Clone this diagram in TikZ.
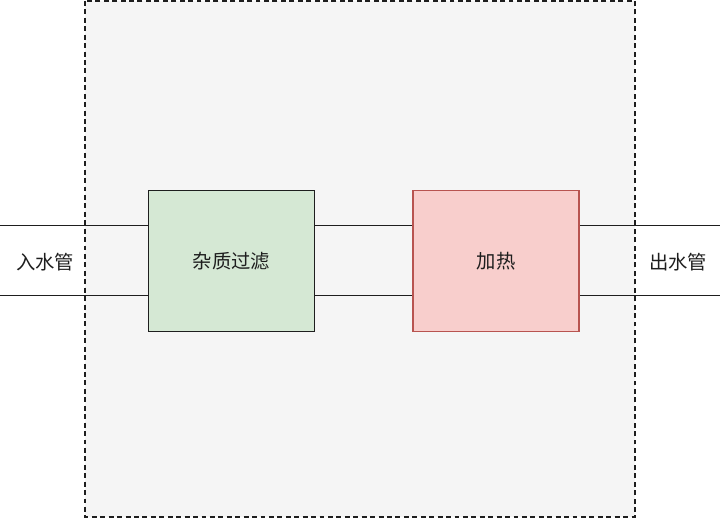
\documentclass[tikz,border=0pt]{standalone}
\usepackage{fontspec}
\setmainfont{Noto Sans CJK SC}
\usetikzlibrary{positioning, calc}
\usepackage{xcolor}
\definecolor{housefill}{HTML}{F5F5F5}
\definecolor{filtgreen}{HTML}{D5E8D4}
\definecolor{heatred}{HTML}{F8CECC}
\definecolor{heatline}{HTML}{B85450}
\definecolor{inkdark}{HTML}{1E1E1E}

\begin{document}
\begin{tikzpicture}[
  x=0.02cm, y=-0.02cm,
  unit/.style={rectangle, minimum width=3.32cm, minimum height=2.82cm,
               line width=1pt, font=\fontsize{11}{13}\selectfont, text=inkdark},
  pipe/.style={draw=inkdark, line width=1pt},
  pipelbl/.style={font=\fontsize{11}{13}\selectfont, text=inkdark},
  node distance=1.94cm
]
\useasboundingbox (0,0) rectangle (720,519);

% ===== HOUSING =====
\draw[fill=housefill, draw=inkdark, line width=1pt, dash pattern=on 2.8pt off 2pt]
  (85,1) rectangle (635,517);

% ===== UNITS =====
\node[unit, fill=filtgreen, draw=inkdark] (filter) at (231.5,261) {杂质过滤};
\node[unit, fill=heatred, draw=heatline, right=of filter] (heat) {加热};

% ===== PIPES =====
\coordinate (inTop) at (0,225.5);
\coordinate (inBot) at (0,295.5);
\coordinate (outTop) at (720,225.5);
\coordinate (outBot) at (720,295.5);

\draw[pipe] (inTop) -- (inTop -| filter.west);
\draw[pipe] (inBot) -- (inBot -| filter.west);
\draw[pipe] (filter.east |- inTop) -- (heat.west |- inTop);
\draw[pipe] (filter.east |- inBot) -- (heat.west |- inBot);
\draw[pipe] (heat.east |- inTop) -- (outTop);
\draw[pipe] (heat.east |- inBot) -- (outBot);

% ===== LABELS =====
\node[pipelbl] (inlet) at (45,262) {入水管};
\node[pipelbl] (outlet) at (678,262) {出水管};

\end{tikzpicture}
\end{document}
